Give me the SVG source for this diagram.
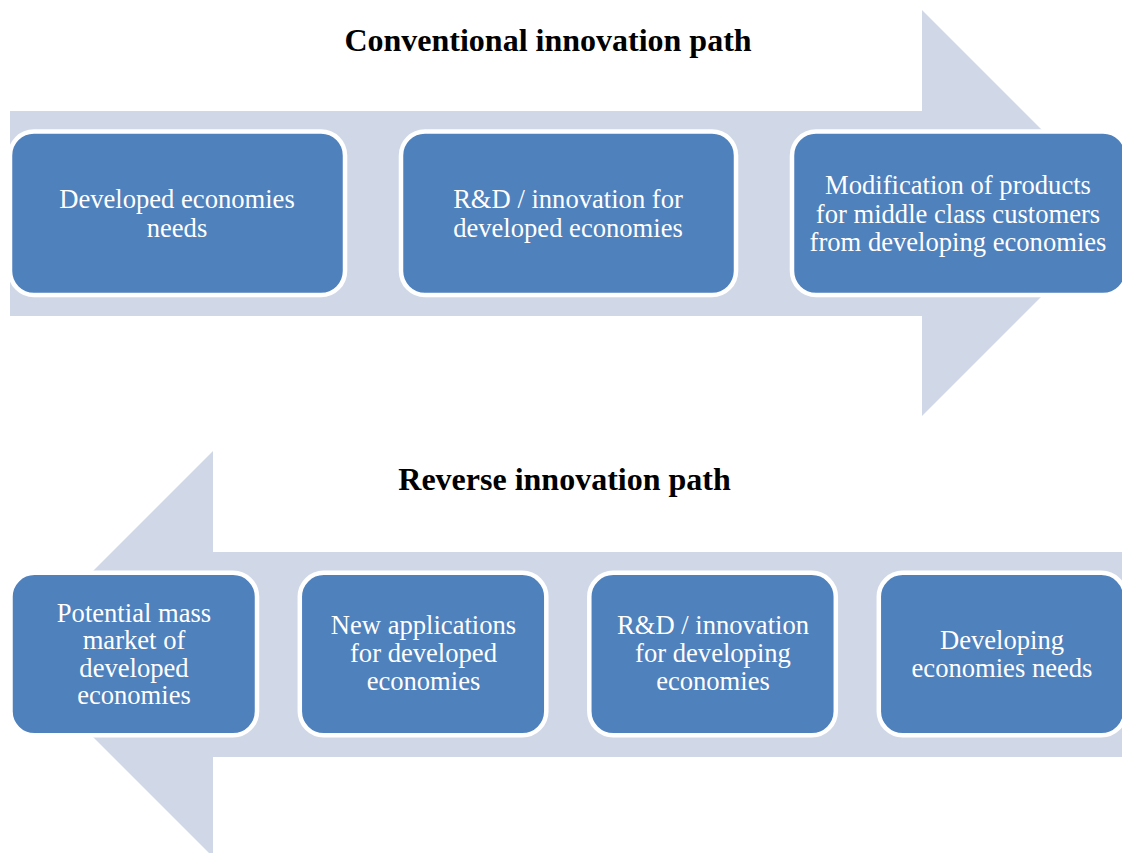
<svg xmlns="http://www.w3.org/2000/svg" width="1122" height="853" viewBox="0 0 1122 853">
  <style>
    .band { fill: #D0D8E8; }
    .box { fill: #4F81BD; stroke: #FFFFFF; stroke-width: 4.5; }
    .label { font-family: "Liberation Serif", "Times New Roman", serif; font-size: 26.6px; fill: #FFFFFF; text-anchor: middle; }
    .title { font-family: "Liberation Serif", "Times New Roman", serif; font-size: 32px; font-weight: bold; fill: #000000; text-anchor: middle; }
  </style>
  <rect width="1122" height="853" fill="#FFFFFF"/>

  <!-- broad background arrows showing direction of each path -->
  <g id="connectors">
    <path class="band" d="M10,111 H922 V10 L1125,213 L922,416 V316 H10 Z"/>
    <path class="band" d="M1122,552 H213 V451 L10,654 L213,857 V757 H1122 Z"/>
  </g>

  <text class="title" x="548" y="51">Conventional innovation path</text>
  <text class="title" x="564.5" y="490">Reverse innovation path</text>

  <!-- conventional path steps -->
  <g id="conv-1">
    <rect class="box" x="10" y="131.5" width="335" height="163.5" rx="24"/>
    <text class="label" x="177" y="208">Developed economies</text>
    <text class="label" x="177" y="237">needs</text>
  </g>
  <g id="conv-2">
    <rect class="box" x="401" y="131.5" width="335" height="163.5" rx="24"/>
    <text class="label" x="568" y="208">R&amp;D / innovation for</text>
    <text class="label" x="568" y="237">developed economies</text>
  </g>
  <g id="conv-3">
    <rect class="box" x="792" y="131.5" width="335" height="163.5" rx="24"/>
    <text class="label" x="958" y="194">Modification of products</text>
    <text class="label" x="958" y="222.5">for middle class customers</text>
    <text class="label" x="958" y="251">from developing economies</text>
  </g>

  <!-- reverse path steps -->
  <g id="rev-1">
    <rect class="box" x="10.5" y="572.8" width="246.5" height="162.5" rx="24"/>
    <text class="label" x="134" y="621.5">Potential mass</text>
    <text class="label" x="134" y="649">market of</text>
    <text class="label" x="134" y="676.5">developed</text>
    <text class="label" x="134" y="704">economies</text>
  </g>
  <g id="rev-2">
    <rect class="box" x="299.8" y="572.8" width="246.5" height="162.5" rx="24"/>
    <text class="label" x="423.5" y="634">New applications</text>
    <text class="label" x="423.5" y="662">for developed</text>
    <text class="label" x="423.5" y="690">economies</text>
  </g>
  <g id="rev-3">
    <rect class="box" x="589.3" y="572.8" width="246.5" height="162.5" rx="24"/>
    <text class="label" x="713" y="634">R&amp;D / innovation</text>
    <text class="label" x="713" y="662">for developing</text>
    <text class="label" x="713" y="690">economies</text>
  </g>
  <g id="rev-4">
    <rect class="box" x="878.8" y="572.8" width="246.5" height="162.5" rx="24"/>
    <text class="label" x="1002" y="648.5">Developing</text>
    <text class="label" x="1002" y="676.5">economies needs</text>
  </g>
</svg>
